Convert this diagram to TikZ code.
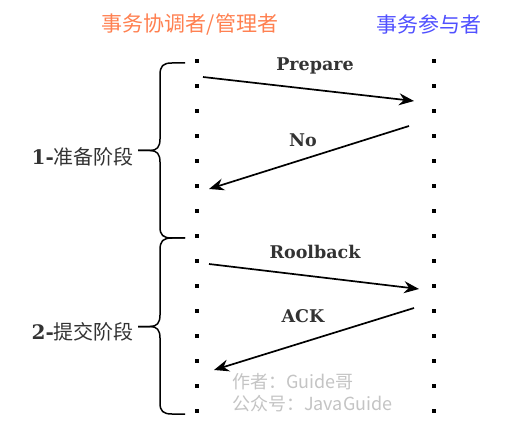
\documentclass[tikz,border=0pt]{standalone}
\usepackage{fontspec}
\setmainfont{DejaVu Serif}
\newfontfamily\cjk{Noto Sans CJK SC}
\usetikzlibrary{arrows.meta}
\definecolor{coordc}{HTML}{FF8050}
\definecolor{partc}{HTML}{5050FF}
\definecolor{txtc}{HTML}{333333}
\definecolor{wmc}{HTML}{C4C4C4}
\tikzset{
  lifedot/.style={fill=black},
  msg/.style={line width=1.7pt,-{Stealth[length=15pt,width=12pt,inset=5pt]}},
  msglabel/.style={text=txtc,font=\bfseries\fontsize{17.5}{20}\selectfont,inner sep=0pt},
  bracepath/.style={line width=1.5pt,line join=round},
  phase/.style={text=txtc,inner sep=0pt,font=\fontsize{20}{24}\selectfont},
  title/.style={inner sep=0pt,font=\cjk\fontsize{21}{25}\selectfont},
  wm/.style={text=wmc,inner sep=0pt,anchor=west,font=\cjk\fontsize{18}{22}\selectfont}
}
\begin{document}
\begin{tikzpicture}[x=1pt,y=-1pt]
\useasboundingbox[fill=white] (0,0) rectangle (521,443);
% titles
\node[title,text=coordc] (tcoord) at (190,25) {事务协调者/管理者};
\node[title,text=partc] (tpart) at (429,25) {事务参与者};
% lifelines
\foreach \i in {0,...,14}{
  \fill[lifedot] (195,{59+25*\i}) rectangle (199,{63+25*\i});
  \fill[lifedot] (432,{59+25*\i}) rectangle (436,{63+25*\i});
}
% braces
\draw[bracepath] (185,63) -- (172,63) .. controls (163,63) and (160,66) .. (160,75)
  -- (160,139) .. controls (160,147) and (157,150.5) .. (150,150.5) -- (138,150.5);
\draw[bracepath] (138,150.5) -- (150,150.5) .. controls (157,150.5) and (160,154) .. (160,162)
  -- (160,227) .. controls (160,235) and (163,238) .. (172,238) -- (185,238);
\draw[bracepath] (185,238) -- (172,238) .. controls (163,238) and (160,241) .. (160,250)
  -- (160,315) .. controls (160,323) and (157,326.5) .. (150,326.5) -- (138,326.5);
\draw[bracepath] (138,326.5) -- (150,326.5) .. controls (157,326.5) and (160,330) .. (160,338)
  -- (160,403) .. controls (160,411) and (163,414) .. (172,414) -- (185,414);
% phase labels
\node[phase,anchor=east] (p1) at (134,157) {{\bfseries 1-}{\cjk 准备阶段}};
\node[phase,anchor=east] (p2) at (134,332) {{\bfseries 2-}{\cjk 提交阶段}};
% message endpoints
\coordinate (a1) at (203,77);  \coordinate (b1) at (414,101);
\coordinate (a2) at (409,126); \coordinate (b2) at (209,189);
\coordinate (a3) at (209,264); \coordinate (b3) at (419,289);
\coordinate (a4) at (414,308); \coordinate (b4) at (214,370);
\draw[msg] (a1) -- (b1);
\draw[msg] (a2) -- (b2);
\draw[msg] (a3) -- (b3);
\draw[msg] (a4) -- (b4);
\node[msglabel] (l1) at (315,66) {Prepare};
\node[msglabel] (l2) at (303,140) {No};
\node[msglabel] (l3) at (315,252) {Roolback};
\node[msglabel] (l4) at (303,316) {ACK};
% watermark
\node[wm] (w1) at (232,382) {作者：Guide哥};
\node[wm] (w2) at (232,404) {公众号：JavaGuide};
\end{tikzpicture}
\end{document}
